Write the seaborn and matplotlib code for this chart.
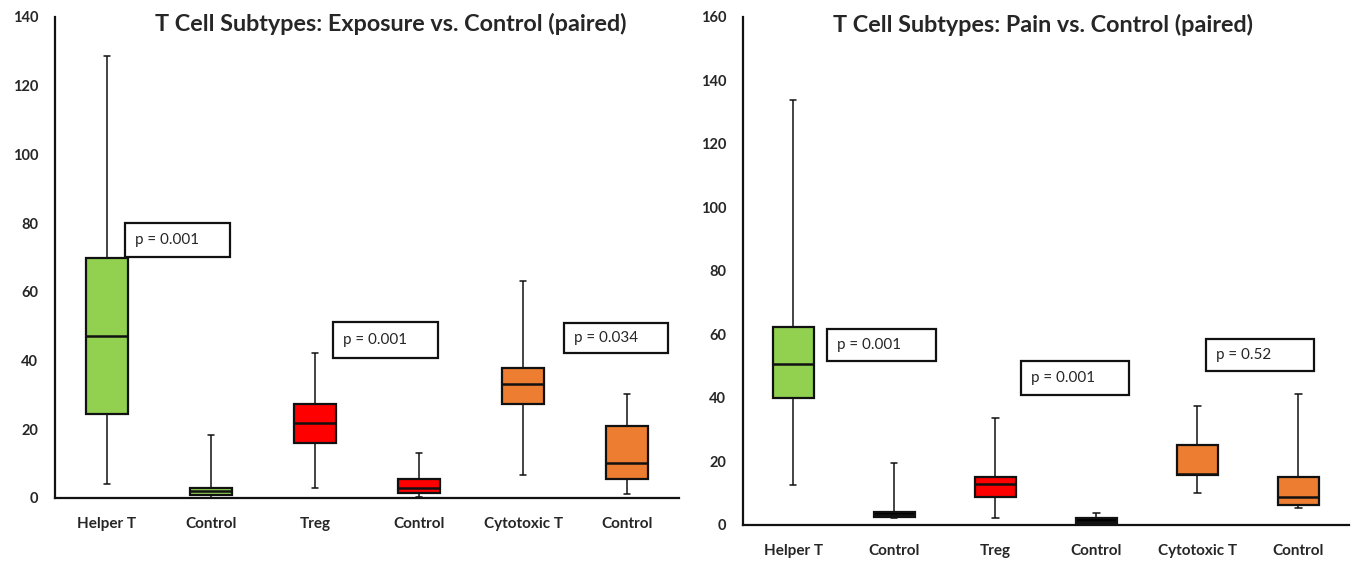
import numpy as np
import pandas as pd
import matplotlib
matplotlib.use("Agg")
import matplotlib.pyplot as plt
import seaborn as sns
from matplotlib.patches import Rectangle

sns.set_style("white")
plt.rcParams['font.family'] = ['Lato', 'DejaVu Sans']

# ---- data: five-number summaries (min, Q1, median, Q3, max) ----
keys = ["Helper T", "Control A", "Treg", "Control B", "Cytotoxic T", "Control C"]
tick_labels = ["Helper T", "Control", "Treg", "Control", "Cytotoxic T", "Control"]

exp_helper = [4.0, 24.5, 47.0, 69.8, 128.5]
exp_ctrl1 = [0.0, 1.0, 2.0, 2.8, 18.2]
exp_treg = [2.8, 15.9, 21.8, 27.4, 42.3]
exp_ctrl2 = [0.3, 1.4, 2.9, 5.6, 13.1]
exp_cyto = [6.8, 27.3, 33.2, 37.7, 63.0]
exp_ctrl3 = [1.2, 5.6, 10.3, 21.0, 30.3]

pain_helper = [12.5, 40.1, 50.6, 62.4, 133.8]
pain_ctrl1 = [2.2, 2.4, 3.0, 4.2, 19.5]
pain_treg = [2.1, 8.7, 12.9, 15.2, 33.8]
pain_ctrl2 = [0.3, 0.3, 1.0, 2.3, 3.9]
pain_cyto = [10.2, 15.7, 16.0, 25.2, 37.6]
pain_ctrl3 = [5.2, 6.3, 8.9, 15.0, 41.2]

exp_colors = ["#92D050", "#92D050", "#FF0000", "#FF0000", "#ED7D31", "#ED7D31"]
pain_colors = ["#92D050", "#000000", "#FF0000", "#000000", "#ED7D31", "#ED7D31"]

exp_titles = "T Cell Subtypes: Exposure vs. Control (paired)"
pain_titles = "T Cell Subtypes: Pain vs. Control (paired)"

exp_p = ["p = 0.001", "p = 0.001", "p = 0.034"]
pain_p = ["p = 0.001", "p = 0.001", "p = 0.52"]


def make_df(series):
    rows = []
    for k, vals in zip(keys, series):
        for v in vals:
            rows.append((k, v))
    return pd.DataFrame(rows, columns=["cat", "val"])


df_exp = make_df([exp_helper, exp_ctrl1, exp_treg, exp_ctrl2, exp_cyto, exp_ctrl3])
df_pain = make_df([pain_helper, pain_ctrl1, pain_treg, pain_ctrl2, pain_cyto, pain_ctrl3])

fig = plt.figure(figsize=(13.57, 5.63), dpi=100)
ax1 = fig.add_axes([0.0405, 0.1155, 0.4600, 0.8545])
ax2 = fig.add_axes([0.5475, 0.0675, 0.4466, 0.9025])


def draw(ax, df, colors, ymax, title, tx, pvals, pboxes):
    sns.boxplot(data=df, x="cat", y="val", hue="cat", order=keys, hue_order=keys,
                palette=colors, saturation=1, legend=False, whis=np.inf, width=0.41,
                linecolor="#111111", linewidth=1.6, dodge=False,
                whiskerprops=dict(linewidth=1.1), capprops=dict(linewidth=1.1),
                medianprops=dict(linewidth=1.8, color="#111111"), ax=ax)
    # shorten caps
    for c in ax.containers:
        for cap in getattr(c, "caps", []):
            xd = cap.get_xdata()
            m = (xd[0] + xd[1]) / 2
            cap.set_xdata([m - 0.03, m + 0.03])
    ax.set_xlim(-0.5, 5.5)
    ax.set_ylim(0, ymax)
    ax.set_yticks(np.arange(0, ymax + 1, 20))
    ax.set_xticks(range(6))
    ax.set_xticklabels(tick_labels, fontsize=11, fontweight="bold")
    for t in ax.get_yticklabels():
        t.set_fontsize(10.5)
        t.set_fontweight("bold")
    ax.tick_params(length=0, pad=14)
    ax.tick_params(axis="y", pad=12)
    ax.set_xlabel("")
    ax.set_ylabel("")
    for s in ["top", "right"]:
        ax.spines[s].set_visible(False)
    for s in ["left", "bottom"]:
        ax.spines[s].set_color("#111111")
        ax.spines[s].set_linewidth(1.6)
    ax.text(tx, 0.985, title, transform=ax.transAxes, ha="center", va="center",
            fontsize=16.8, fontweight="bold")
    for txt, (x0, x1, y0, y1) in zip(pvals, pboxes):
        ax.add_patch(Rectangle((x0, y0), x1 - x0, y1 - y0, facecolor="white",
                               edgecolor="#111111", linewidth=1.6, zorder=5))
        ax.text(x0 + 0.1, (y0 + y1) / 2, txt, ha="left", va="center",
                fontsize=11, zorder=6)


draw(ax1, df_exp, exp_colors, 140, exp_titles, 0.538, exp_p,
     [(0.17, 1.18, 70.0, 80.0), (2.17, 3.18, 40.6, 51.1), (4.39, 5.39, 42.3, 51.0)])
draw(ax2, df_pain, pain_colors, 160, pain_titles, 0.495, pain_p,
     [(0.33, 1.41, 51.6, 61.6), (2.25, 3.32, 40.9, 51.6), (4.08, 5.15, 48.4, 58.5)])

fig.savefig("out.png", dpi=100)
